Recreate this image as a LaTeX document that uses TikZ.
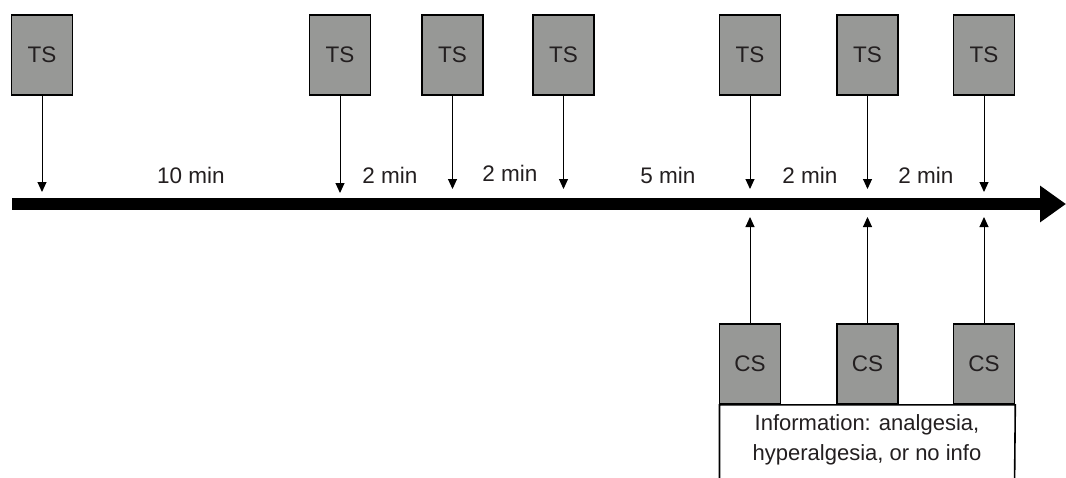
\documentclass[tikz,border=0pt]{standalone}
\usepackage{fontspec}
\setmainfont{Liberation Sans}
\usetikzlibrary{arrows.meta}
\definecolor{boxgray}{RGB}{151,152,150}
\definecolor{txt}{RGB}{35,31,32}
\tikzset{
  stim/.style={draw=black, line width=1.6pt, fill=boxgray, minimum width=61pt, minimum height=80pt, inner sep=0pt, text=txt, font=\fontsize{22.5}{26}\selectfont},
  conn/.style={line width=1pt, -{Triangle[width=9pt,length=10pt]}},
  lab/.style={text=txt, font=\fontsize{22.5}{26}\selectfont, inner sep=0pt},
  timeline/.style={line width=12pt, -{Triangle[width=35pt,length=26pt]}}
}
\begin{document}
\begin{tikzpicture}[x=1pt,y=-1pt]
\useasboundingbox (0,0) rectangle (1066,477);
% timeline
\coordinate (tl0) at (12,204);
\coordinate (tl1) at (1066,204);
\draw[timeline] (tl0) -- (tl1);
% TS boxes
\node[stim] (ts1) at (42,55) {TS};
\node[stim] (ts2) at (340,55) {TS};
\node[stim] (ts3) at (452.5,55) {TS};
\node[stim] (ts4) at (563.5,55) {TS};
\node[stim] (ts5) at (750,55) {TS};
\node[stim] (ts6) at (867.5,55) {TS};
\node[stim] (ts7) at (984,55) {TS};
% arrow tips on the timeline
\coordinate (a1) at (42,192);
\coordinate (a2) at (340,193);
\coordinate (a3) at (452.5,189);
\coordinate (a4) at (563.5,189);
\coordinate (a5) at (750,189);
\coordinate (a6) at (867.5,189);
\coordinate (a7) at (984,192);
\foreach \i in {1,...,7} \draw[conn] (ts\i.south) -- (a\i);
% interval labels
\node[lab] (l1) at (191,175) {10 min};
\node[lab] (l2) at (390,175) {2 min};
\node[lab] (l3) at (510,173) {2 min};
\node[lab] (l4) at (668,175) {5 min};
\node[lab] (l5) at (810,175) {2 min};
\node[lab] (l6) at (926,175) {2 min};
% CS boxes
\node[stim] (cs1) at (750,364) {CS};
\node[stim] (cs2) at (867.5,364) {CS};
\node[stim] (cs3) at (984,364) {CS};
\coordinate (b1) at (750,217);
\coordinate (b2) at (867.5,217);
\coordinate (b3) at (984,217);
\foreach \i in {1,2,3} \draw[conn] (cs\i.north) -- (b\i);
% information box (open at the bottom edge of the picture)
\coordinate (ib1) at (719.5,490);
\coordinate (ib2) at (1014.5,490);
\draw[line width=1.6pt, fill=white] (ib1) |- (cs1.south west) -| (cs3.south east) -- (ib2);
\node[lab, font=\fontsize{22}{30}\selectfont, align=center] (info) at (867,440) {Information: analgesia,\\hyperalgesia, or no info};
\end{tikzpicture}
\end{document}
